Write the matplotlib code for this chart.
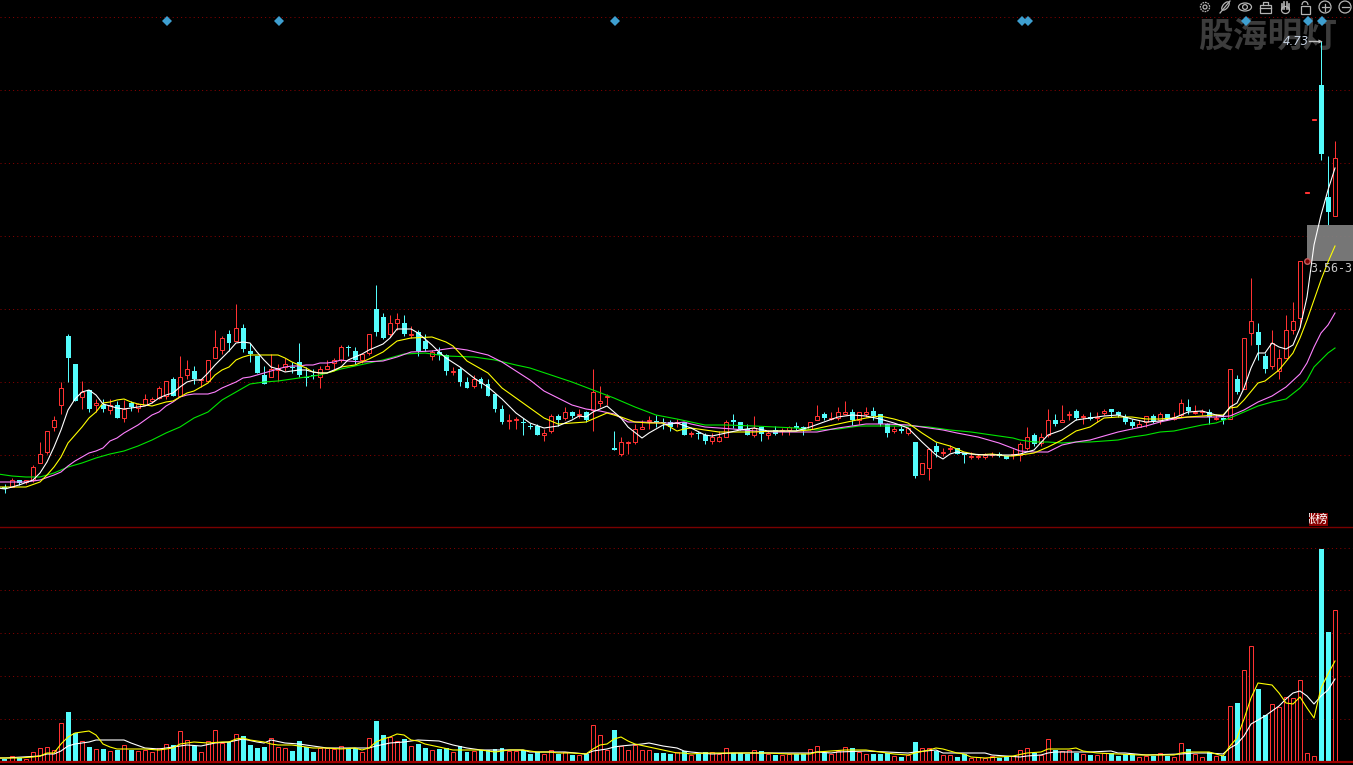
import numpy as np
import matplotlib
matplotlib.use('Agg')
import matplotlib.pyplot as plt
from matplotlib.patches import Rectangle, Circle, Ellipse, Arc

plt.rcParams['font.family'] = ['Noto Sans CJK SC', 'DejaVu Sans']

# price panel, chart units (one unit is one pixel of height above the panel floor)
opens = [
    40, 40, 47, 45, 47, 64, 75, 100, 122, 191,
    163, 130, 137, 122, 122, 117, 122, 109, 124, 119,
    122, 126, 129, 131, 148, 131, 152, 156, 147, 146,
    169, 177, 193, 186, 199, 176, 171, 152, 150, 157,
    160, 160, 165, 150, 152, 150, 158, 164, 167, 180,
    176, 167, 174, 218, 210, 193, 204, 204, 192, 195,
    186, 171, 175, 172, 155, 158, 145, 141, 148, 143,
    133, 118, 106, 107, 105, 101, 101, 92, 96, 111,
    109, 115, 112, 115, 117, 124, 130, 79, 73, 84,
    85, 98, 106, 106, 105, 105, 104, 105, 93, 94,
    92, 86, 86, 90, 107, 105, 98, 92, 100, 92,
    97, 96, 97, 101, 100, 98, 107, 113, 108, 109,
    113, 115, 107, 113, 116, 113, 103, 96, 98, 94,
    85, 53, 59, 81, 74, 78, 79, 74, 70, 70,
    70, 72, 73, 71, 72, 72, 79, 92, 84, 92,
    107, 105, 112, 116, 110, 110, 109, 114, 118, 115,
    110, 105, 100, 105, 111, 107, 113, 108, 112, 120,
    114, 115, 115, 108, 109, 108, 148, 138, 194, 195,
    171, 161, 156, 169, 197, 209, 334, 407, 442, 330,
    311,
]
closes = [
    38, 47, 44, 47, 60, 73, 96, 107, 139, 169,
    126, 135, 118, 124, 118, 122, 109, 118, 120, 123,
    128, 128, 139, 146, 131, 150, 158, 148, 148, 167,
    180, 189, 184, 199, 178, 173, 154, 143, 158, 159,
    163, 159, 152, 149, 151, 158, 161, 167, 180, 179,
    167, 173, 193, 195, 189, 204, 208, 193, 193, 176,
    178, 175, 172, 156, 156, 145, 139, 148, 143, 131,
    118, 105, 107, 108, 104, 100, 92, 94, 111, 107,
    115, 111, 113, 107, 135, 126, 131, 77, 85, 85,
    98, 100, 107, 105, 104, 100, 105, 92, 94, 93,
    86, 90, 90, 105, 105, 97, 92, 99, 93, 94,
    93, 97, 100, 99, 97, 105, 111, 109, 109, 115,
    115, 107, 115, 115, 111, 103, 94, 98, 96, 99,
    51, 64, 78, 75, 75, 79, 73, 72, 71, 71,
    72, 73, 71, 68, 73, 83, 90, 83, 90, 107,
    103, 107, 113, 109, 111, 108, 110, 116, 115, 112,
    105, 101, 103, 111, 106, 113, 108, 110, 124, 116,
    115, 116, 110, 109, 107, 158, 135, 189, 206, 182,
    158, 184, 169, 197, 206, 266, 335, 408, 373, 315,
    369,
]
highs = [
    43, 49, 47, 47, 62, 85, 96, 111, 145, 193,
    163, 146, 137, 128, 128, 128, 126, 127, 126, 124,
    133, 130, 141, 146, 150, 171, 167, 161, 148, 167,
    197, 191, 197, 223, 203, 184, 171, 161, 173, 163,
    169, 165, 184, 160, 158, 161, 167, 169, 182, 182,
    180, 173, 193, 242, 214, 212, 214, 212, 201, 197,
    193, 177, 180, 173, 160, 160, 150, 152, 150, 148,
    133, 122, 113, 110, 109, 104, 103, 98, 113, 113,
    120, 116, 118, 116, 158, 141, 133, 96, 90, 86,
    103, 107, 111, 112, 109, 107, 108, 105, 96, 96,
    94, 94, 96, 107, 113, 105, 103, 111, 101, 97,
    101, 99, 101, 105, 101, 105, 122, 115, 115, 120,
    126, 118, 115, 120, 120, 113, 104, 101, 101, 100,
    85, 64, 79, 85, 79, 82, 79, 74, 75, 73,
    74, 75, 75, 71, 78, 85, 100, 94, 94, 118,
    113, 122, 116, 118, 113, 115, 115, 118, 118, 116,
    113, 108, 107, 111, 113, 115, 113, 115, 128, 128,
    122, 118, 118, 113, 110, 158, 152, 189, 249, 204,
    174, 197, 178, 212, 225, 266, 335, 408, 486, 371,
    386,
]
lows = [
    34, 40, 42, 43, 45, 64, 73, 96, 113, 145,
    126, 118, 115, 115, 115, 113, 109, 105, 116, 115,
    122, 124, 128, 128, 131, 131, 148, 143, 140, 146,
    169, 173, 176, 186, 175, 165, 154, 143, 150, 146,
    156, 154, 150, 141, 148, 139, 158, 158, 165, 171,
    163, 164, 172, 191, 188, 190, 197, 191, 189, 171,
    176, 167, 167, 152, 152, 141, 139, 139, 139, 131,
    115, 103, 98, 98, 92, 98, 92, 86, 94, 101,
    107, 109, 109, 105, 96, 120, 122, 77, 71, 73,
    83, 98, 98, 100, 98, 96, 100, 92, 90, 88,
    83, 83, 85, 90, 99, 97, 92, 90, 86, 88,
    92, 92, 92, 97, 92, 97, 107, 107, 107, 107,
    113, 102, 103, 110, 107, 101, 90, 94, 94, 92,
    49, 53, 47, 70, 71, 75, 73, 64, 68, 68,
    68, 70, 70, 68, 68, 66, 77, 81, 81, 90,
    101, 105, 107, 107, 103, 107, 105, 112, 110, 110,
    103, 99, 100, 100, 104, 103, 107, 107, 110, 113,
    113, 112, 103, 107, 103, 108, 133, 138, 182, 167,
    154, 158, 148, 169, 193, 200, 334, 407, 367, 302,
    311,
]

# moving averages as (candle number, level)
ma5 = [
    (-1, 39), (0, 38), (2, 42), (4, 47), (5, 54), (6, 65), (7, 80), (8, 97), (9, 117), (10, 128),
    (11, 135), (12, 137), (13, 132), (14, 123), (15, 121), (16, 119), (17, 118), (18, 119), (19, 120),
    (20, 121), (21, 124), (22, 129), (23, 132), (24, 134), (25, 140), (26, 145), (27, 147), (28, 147),
    (29, 154), (30, 162), (31, 169), (32, 176), (33, 184), (34, 185), (35, 184), (36, 175), (37, 167),
    (38, 160), (39, 158), (40, 155), (41, 156), (42, 157), (43, 157), (44, 155), (45, 154), (46, 154),
    (47, 157), (48, 160), (49, 167), (51, 173), (52, 177), (54, 183), (55, 189), (56, 198), (58, 198),
    (59, 194), (60, 188), (61, 182), (62, 175), (63, 169), (65, 160), (67, 149), (69, 140), (71, 128),
    (73, 114), (75, 104), (77, 99), (79, 101), (81, 107), (82, 111), (83, 110), (84, 115), (86, 121),
    (88, 109), (89, 100), (91, 89), (92, 94), (94, 102), (96, 104), (98, 99), (100, 92), (101, 91),
    (103, 94), (105, 97), (107, 99), (109, 96), (111, 96), (113, 96), (115, 100), (117, 105), (119, 110),
    (121, 112), (123, 111), (125, 108), (127, 104), (129, 99), (131, 85), (133, 72), (134, 68), (135, 73),
    (136, 75), (138, 73), (140, 72), (142, 72), (144, 72), (145, 73), (147, 77), (149, 92), (151, 97),
    (153, 107), (155, 109), (157, 111), (159, 112), (161, 108), (163, 105), (165, 106), (167, 109),
    (169, 115), (171, 116), (173, 112), (174, 111), (175, 120), (176, 124), (177, 139), (178, 159),
    (179, 174), (180, 174), (181, 184), (182, 180), (183, 178), (184, 182), (185, 199), (186, 230),
    (187, 282), (188, 312), (189, 337), (190, 359),
]
ma10 = [
    (-1, 40), (0, 40), (3, 40), (5, 45), (6, 52), (7, 60), (8, 70), (9, 84), (10, 92), (11, 100), (12, 109),
    (13, 115), (14, 124), (15, 125), (16, 127), (17, 128), (18, 125), (19, 123), (20, 122), (21, 121),
    (22, 123), (23, 125), (24, 126), (25, 130), (26, 134), (27, 136), (28, 140), (29, 144), (30, 152),
    (31, 157), (32, 160), (33, 167), (34, 170), (35, 172), (37, 172), (39, 172), (40, 169), (41, 165),
    (42, 162), (43, 159), (44, 155), (45, 154), (46, 154), (47, 156), (48, 160), (50, 162), (52, 168),
    (54, 175), (56, 186), (58, 189), (61, 190), (63, 185), (64, 181), (66, 166), (69, 154), (71, 139),
    (73, 129), (75, 119), (77, 109), (79, 103), (81, 104), (83, 105), (84, 108), (86, 114), (88, 110),
    (90, 105), (92, 104), (94, 104), (96, 96), (97, 98), (98, 99), (100, 97), (102, 95), (104, 95),
    (107, 95), (110, 96), (113, 96), (115, 97), (117, 100), (119, 103), (121, 106), (123, 109), (125, 111),
    (127, 108), (129, 104), (131, 94), (133, 85), (135, 81), (137, 75), (139, 72), (141, 73), (143, 71),
    (144, 71), (145, 72), (147, 74), (149, 80), (151, 87), (153, 96), (155, 100), (157, 109), (159, 110),
    (161, 110), (163, 108), (165, 108), (167, 109), (169, 110), (171, 111), (173, 112), (174, 112),
    (175, 119), (176, 120), (177, 127), (179, 144), (180, 146), (182, 157), (184, 174), (185, 189),
    (186, 207), (187, 227), (188, 247), (189, 265), (190, 281),
]
ma20 = [
    (-1, 45), (1, 45), (3, 45), (5, 47), (7, 52), (8, 55), (9, 61), (10, 66), (11, 70), (12, 74), (13, 76),
    (14, 79), (15, 86), (16, 89), (17, 94), (18, 98), (19, 102), (20, 107), (21, 112), (22, 115), (23, 121),
    (24, 125), (25, 130), (26, 132), (27, 133), (29, 133), (30, 135), (31, 139), (32, 142), (33, 145),
    (34, 149), (35, 150), (36, 152), (37, 154), (38, 156), (39, 158), (40, 160), (41, 161), (42, 161),
    (43, 162), (44, 162), (45, 164), (46, 164), (47, 165), (48, 167), (49, 166), (51, 165), (54, 166),
    (56, 170), (58, 175), (61, 176), (64, 179), (66, 177), (69, 172), (71, 165), (73, 156), (75, 147),
    (77, 136), (79, 129), (81, 122), (83, 118), (85, 116), (87, 113), (89, 105), (91, 105), (94, 104),
    (96, 104), (97, 105), (98, 103), (100, 100), (102, 99), (104, 98), (107, 96), (110, 95), (113, 95),
    (116, 95), (119, 99), (121, 101), (123, 103), (126, 103), (129, 102), (131, 100), (134, 97), (136, 94),
    (139, 90), (142, 84), (145, 76), (147, 75), (149, 75), (151, 82), (153, 85), (155, 87), (157, 91),
    (159, 95), (161, 98), (163, 101), (165, 105), (167, 108), (169, 110), (171, 110), (173, 110),
    (175, 111), (177, 117), (179, 125), (181, 131), (183, 140), (185, 153), (186, 164), (187, 180),
    (188, 194), (189, 202), (190, 214),
]
ma30 = [
    (-1, 53), (1, 51), (3, 50), (5, 50), (7, 54), (9, 60), (11, 64), (13, 69), (15, 73), (17, 76), (19, 81),
    (21, 87), (23, 94), (25, 100), (27, 109), (29, 115), (31, 127), (33, 135), (35, 143), (37, 145),
    (39, 146), (41, 148), (43, 150), (45, 152), (47, 156), (48, 158), (50, 161), (54, 167), (57, 173),
    (60, 174), (63, 171), (67, 170), (70, 167), (73, 162), (75, 159), (78, 152), (81, 145), (84, 137),
    (87, 129), (90, 120), (93, 112), (96, 108), (98, 105), (100, 102), (103, 102), (107, 101), (110, 100),
    (113, 99), (116, 97), (119, 98), (122, 101), (126, 101), (130, 101), (132, 100), (135, 97), (138, 95),
    (141, 92), (144, 89), (145, 87), (147, 85), (149, 85), (151, 84), (153, 85), (155, 85), (157, 86),
    (159, 87), (161, 90), (163, 92), (165, 95), (167, 96), (169, 99), (171, 102), (173, 104), (175, 109),
    (177, 115), (179, 121), (181, 125), (183, 128), (185, 139), (186, 147), (187, 160), (188, 167),
    (189, 174), (190, 179),
]

# volume panel
volumes = [
    3, 6, 4, 3, 10, 14, 15, 12, 39, 50,
    29, 21, 15, 13, 13, 11, 12, 17, 12, 11,
    12, 10, 14, 18, 17, 31, 22, 16, 10, 21,
    32, 19, 20, 28, 26, 17, 14, 15, 24, 15,
    14, 11, 21, 15, 10, 14, 14, 13, 16, 14,
    14, 10, 24, 41, 27, 25, 21, 23, 16, 18,
    14, 12, 13, 14, 10, 16, 10, 11, 12, 12,
    13, 14, 11, 11, 12, 8, 10, 8, 12, 8,
    10, 7, 7, 8, 37, 27, 12, 32, 16, 12,
    17, 12, 12, 9, 9, 8, 10, 11, 7, 8,
    10, 10, 8, 14, 9, 9, 8, 12, 11, 8,
    7, 7, 8, 8, 8, 13, 16, 9, 8, 11,
    15, 14, 10, 8, 8, 8, 9, 6, 5, 7,
    20, 14, 14, 11, 7, 7, 5, 8, 4, 5,
    4, 6, 4, 5, 6, 12, 14, 9, 7, 23,
    12, 11, 12, 9, 8, 7, 7, 9, 9, 6,
    8, 8, 5, 6, 6, 9, 6, 5, 19, 13,
    8, 5, 10, 6, 6, 56, 59, 92, 116, 73,
    47, 58, 55, 65, 64, 82, 9, 6, 213, 130,
    152,
]
vol_ma5 = [
    (-1, 4), (0, 4), (2, 4), (4, 5), (5, 6), (6, 9), (7, 9), (8, 18), (9, 25), (10, 29), (11, 30), (12, 31),
    (13, 27), (14, 18), (15, 15), (16, 13), (18, 13), (20, 13), (22, 12), (24, 14), (25, 18), (26, 19),
    (27, 20), (29, 19), (31, 20), (32, 20), (33, 23), (34, 24), (35, 22), (37, 20), (38, 18), (39, 17),
    (41, 17), (42, 16), (44, 14), (46, 14), (48, 13), (50, 14), (51, 12), (52, 14), (53, 20), (54, 23),
    (55, 25), (56, 28), (57, 27), (58, 22), (59, 21), (60, 18), (62, 15), (64, 12), (66, 12), (68, 12),
    (70, 10), (72, 12), (74, 12), (76, 10), (78, 10), (79, 9), (81, 9), (83, 8), (84, 13), (85, 17),
    (86, 18), (87, 23), (88, 25), (89, 21), (90, 18), (92, 15), (94, 12), (96, 9), (97, 9), (98, 8),
    (100, 9), (102, 9), (105, 9), (109, 9), (112, 8), (115, 8), (116, 10), (118, 11), (120, 12), (123, 12),
    (125, 10), (127, 8), (129, 7), (130, 9), (132, 12), (133, 14), (134, 13), (135, 11), (136, 9), (137, 8),
    (138, 5), (140, 4), (142, 5), (144, 6), (146, 9), (148, 10), (149, 13), (152, 13), (153, 14), (154, 11),
    (156, 9), (159, 8), (162, 7), (165, 7), (167, 7), (168, 9), (169, 10), (172, 10), (174, 6), (175, 16),
    (176, 24), (177, 43), (178, 64), (179, 79), (180, 78), (181, 77), (182, 69), (183, 59), (184, 58),
    (185, 65), (186, 54), (187, 44), (188, 74), (189, 88), (190, 101),
]
vol_ma10 = [
    (-1, 4), (0, 4), (5, 6), (6, 8), (7, 8), (8, 11), (9, 16), (10, 18), (11, 19), (12, 20), (13, 22), (17, 22),
    (18, 19), (20, 14), (22, 13), (24, 15), (26, 17), (28, 16), (30, 19), (32, 20), (34, 23), (36, 20),
    (37, 19), (38, 22), (40, 19), (42, 18), (44, 16), (46, 14), (48, 14), (52, 14), (53, 16), (55, 19),
    (57, 20), (59, 22), (62, 21), (63, 19), (64, 17), (66, 14), (68, 12), (72, 12), (74, 12), (75, 10),
    (80, 10), (83, 8), (84, 11), (86, 13), (87, 15), (88, 16), (91, 18), (92, 19), (94, 16), (96, 14),
    (97, 11), (98, 10), (101, 8), (104, 9), (108, 9), (113, 9), (115, 9), (116, 10), (118, 9), (119, 10),
    (123, 11), (126, 10), (129, 9), (130, 10), (133, 12), (134, 9), (138, 9), (140, 9), (141, 7), (143, 6),
    (145, 5), (146, 6), (148, 7), (149, 9), (150, 10), (152, 10), (155, 10), (158, 11), (159, 9), (160, 9),
    (163, 7), (168, 8), (170, 9), (172, 9), (174, 8), (175, 14), (176, 18), (177, 26), (178, 38), (179, 42),
    (180, 46), (181, 51), (182, 56), (183, 63), (184, 69), (185, 71), (186, 66), (187, 58), (188, 66),
    (189, 72), (190, 83),
]

top_markers = [167, 279, 615, 1022, 1028, 1246, 1308, 1322]
main_grid = [17, 90, 163, 236, 309, 382, 455]
vol_grid = [548, 590, 633, 676, 719]

RED = '#ff3232'
CYAN = '#54fcfc'
GRID = '#8a0000'
W, H = 1353, 765
px = 1 / 7  # one pixel in candle units

fig = plt.figure(figsize=(W / 100, H / 100), dpi=100, facecolor='black')
ax = fig.add_axes([0, 1 - 527 / H, 1, 527 / H])
vax = fig.add_axes([0, 1 - 762 / H, 1, 235 / H])
for a in (ax, vax):
    a.set_facecolor('black')
    a.set_xlim(-5 * px, (W - 5) * px)
    a.set_xticks([])
    a.set_yticks([])
    for s in a.spines.values():
        s.set_visible(False)
ax.set_ylim(0, 527)
vax.set_ylim(0, 235)

x = np.arange(len(opens))
o, c, hi, lo = map(np.array, (opens, closes, highs, lows))
up = c >= o
lw = 0.72

# grid, in the main panel levels are counted from the panel floor
for y in main_grid:
    ax.axhline(527 - y, color=GRID, lw=lw, ls=(0, (1, 3.2)), zorder=1)
for y in vol_grid:
    vax.axhline(762 - y, color=GRID, lw=lw, ls=(0, (1, 3.2)), zorder=1)

ax.set_zorder(10)
vax.set_zorder(10)
ax.patch.set_alpha(0)
fig.patch.set_facecolor('black')
wm = fig.text(1268 / W, 1 - 36 / H, '股海明灯', color='#3c3c3c', fontsize=25, fontweight='black',
              ha='center', va='center', zorder=1)

# candles
ax.vlines(x[up], lo[up], hi[up], color=RED, lw=lw, zorder=3, snap=True)
ax.vlines(x[~up], lo[~up], hi[~up], color=CYAN, lw=lw, zorder=3, snap=True)
ax.bar(x[up], (c - o)[up], bottom=o[up], width=4 * px, facecolor='black', edgecolor=RED,
       linewidth=lw, zorder=4)
ax.bar(x[~up], (o - c)[~up], bottom=c[~up], width=5 * px, color=CYAN, linewidth=0, zorder=4)

# grey price box sits under the average lines
ax.add_patch(Rectangle((1302 * px, 527 - 261), 46 * px, 36, facecolor='#808080', alpha=0.93,
                       linewidth=0, zorder=4.5))

for pts, col in ((ma30, '#00e600'), (ma20, '#ff80ff'), (ma10, '#ffff00'), (ma5, '#ffffff')):
    ax.plot(*zip(*pts), color=col, lw=0.8, zorder=5)

# volume
v = np.array(volumes)
vax.bar(x[up], v[up], width=4 * px, facecolor='black', edgecolor=RED, linewidth=lw, zorder=3)
vax.bar(x[~up], v[~up], width=5 * px, color=CYAN, linewidth=0, zorder=3)
vax.plot(*zip(*vol_ma10), color='white', lw=0.8, zorder=4)
vax.plot(*zip(*vol_ma5), color='#ffff00', lw=0.8, zorder=5)

# overlay in picture pixels for the separators, labels and toolbar
top = fig.add_axes([0, 0, 1, 1], zorder=20)
top.set_xlim(0, W)
top.set_ylim(H, 0)
top.axis('off')
top.patch.set_alpha(0)
top.plot([0, W], [527, 527], color='#7a0000', lw=1)
top.plot([0, W], [762, 762], color='#a00000', lw=1.6)

top.plot(top_markers, [21] * len(top_markers), ls='none', marker='D', ms=5, color='#3e9fd0', mew=0)

top.text(1296, 41, '4.73', color='#c8d4e4', fontsize=8.5, style='italic', ha='center', va='center',
         family=['DejaVu Sans'])
top.plot([1309, 1319], [41, 41], color='#c0c0c0', lw=1)
top.plot([1320], [41], marker='>', ms=3, color='#c0c0c0', mew=0)
top.text(1310, 268, '3.56-3', color='#c8c8c8', fontsize=8.4, ha='left', va='center',
         family=['DejaVu Sans Mono'])
top.plot([1307], [261], marker='o', ms=4, mfc='#7a0000', mec='#c06060', mew=1)

tag_box = Rectangle((1309, 513), 19, 13, facecolor='#8a0000', linewidth=0)
top.add_patch(tag_box)
tag = top.text(1328, 519.5, '涨榜', color='white', fontsize=8.8, ha='right', va='center', clip_on=True)
tag.set_clip_path(tag_box)

# toolbar icons
ic = '#b4b4b4'
il = 0.9
top.add_patch(Circle((1205, 7), 4.6, fill=False, ec=ic, lw=il, ls=(0, (1.4, 0.7))))
top.add_patch(Circle((1205, 7), 2, fill=False, ec=ic, lw=il))
top.plot([1220, 1230], [13, 1], color=ic, lw=il)
top.add_patch(Ellipse((1225.5, 6), 5, 10, angle=40, fill=False, ec=ic, lw=il))
top.add_patch(Ellipse((1245, 7), 13, 8, fill=False, ec=ic, lw=il))
top.add_patch(Circle((1245, 7), 2.4, fill=False, ec=ic, lw=il))
top.add_patch(Rectangle((1259.5, 4.5), 11, 8, fill=False, ec=ic, lw=il))
top.plot([1262.5, 1262.5, 1267.5, 1267.5], [4.5, 1.5, 1.5, 4.5], color=ic, lw=il)
top.plot([1259.5, 1270.5], [8, 8], color=ic, lw=il)
for fx, ftop in ((1281.5, 4), (1284, 1.5), (1286.5, 1.5), (1289, 4)):
    top.plot([fx, fx], [ftop, 9], color=ic, lw=1.2)
top.add_patch(Ellipse((1285.5, 10), 8, 7, fill=False, ec=ic, lw=il))
top.add_patch(Rectangle((1300.5, 6), 9, 7.5, fill=False, ec=ic, lw=il))
top.add_patch(Arc((1305, 5), 6, 7, theta1=180, theta2=360, ec=ic, lw=il))
for cx in (1325, 1345):
    top.add_patch(Circle((cx, 7), 6, fill=False, ec=ic, lw=il))
    top.plot([cx - 3.5, cx + 3.5], [7, 7], color=ic, lw=il)
top.plot([1325, 1325], [3.5, 10.5], color=ic, lw=il)

fig.savefig('out.png', dpi=100, facecolor='black')
